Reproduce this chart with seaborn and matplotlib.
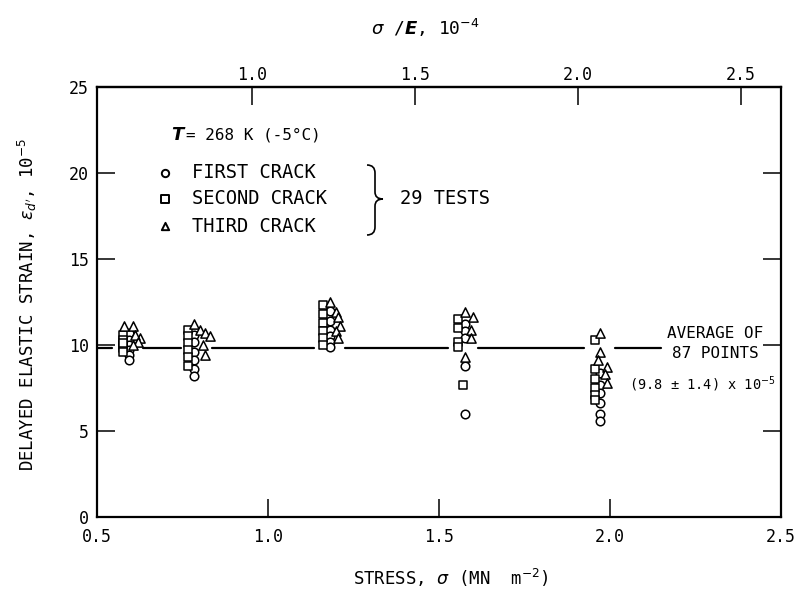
import numpy as np
import pandas as pd
import matplotlib
matplotlib.use("Agg")
import matplotlib.pyplot as plt
import seaborn as sns
from matplotlib.path import Path
from matplotlib.patches import PathPatch

# ---------------- data ----------------
first_stress = [0.595, 0.595, 0.595, 0.595, 0.595, 0.595,
                0.785, 0.785, 0.785, 0.785, 0.785, 0.785,
                1.180, 1.180, 1.180, 1.180, 1.180, 1.180,
                1.575, 1.575, 1.575, 1.575, 1.575,
                1.970, 1.970, 1.970, 1.970, 1.970, 1.970]
first_strain = [10.7, 10.3, 10.0, 9.7, 9.4, 9.1,
                10.6, 10.2, 9.6, 9.1, 8.6, 8.2,
                12.0, 11.4, 10.9, 10.5, 10.2, 9.9,
                11.2, 10.8, 10.4, 8.8, 6.0,
                8.4, 7.7, 7.2, 6.6, 6.0, 5.6]

second_stress = [0.575, 0.575, 0.575, 0.575, 0.575, 0.575,
                 0.765, 0.765, 0.765, 0.765, 0.765, 0.765,
                 1.160, 1.160, 1.160, 1.160, 1.160, 1.160,
                 1.555, 1.555, 1.555, 1.555, 1.570,
                 1.955, 1.955, 1.955, 1.955, 1.955, 1.955]
second_strain = [10.6, 10.3, 10.0, 9.8, 9.6, 10.1,
                 10.9, 10.5, 10.1, 9.7, 9.3, 8.8,
                 12.3, 11.8, 11.3, 10.8, 10.4, 10.0,
                 11.5, 11.0, 10.2, 9.9, 7.7,
                 10.3, 8.6, 8.0, 7.5, 7.1, 6.8]

third_stress = [0.580, 0.605, 0.625, 0.610, 0.620, 0.605,
                0.785, 0.800, 0.815, 0.830, 0.810, 0.815,
                1.180, 1.200, 1.205, 1.210, 1.200, 1.205,
                1.575, 1.600, 1.595, 1.595, 1.575,
                1.970, 1.970, 1.965, 1.990, 1.985, 1.990]
third_strain = [11.1, 11.1, 10.4, 10.6, 10.2, 10.0,
                11.2, 10.9, 10.7, 10.5, 10.0, 9.4,
                12.5, 11.9, 11.6, 11.1, 10.8, 10.4,
                11.9, 11.6, 10.9, 10.4, 9.3,
                10.7, 9.6, 9.1, 8.7, 8.3, 7.8]

stress_levels = [0.59, 0.79, 1.18, 1.57, 1.97]
average_strain = 9.8
strain_spread = 1.4
average_line_end = 2.15
n_tests = 29
modulus_factor = 0.953   # stress (MN m^-2) per 10^-4 of sigma/E

x_ticks = [0.5, 1.0, 1.5, 2.0, 2.5]
x_tick_labels = ["0.5", "1.0", "1.5", "2.0", "2.5"]
y_ticks = [0, 5, 10, 15, 20, 25]
y_tick_labels = ["0", "5", "10", "15", "20", "25"]
top_ticks = [1.0, 1.5, 2.0, 2.5]
top_tick_labels = ["1.0", "1.5", "2.0", "2.5"]
crack_labels = ["FIRST CRACK", "SECOND CRACK", "THIRD CRACK"]

# ---------------- style ----------------
sns.set_theme(style="white")
plt.rcParams["font.family"] = ["DejaVu Sans Mono", "DejaVu Sans"]
plt.rcParams["mathtext.fontset"] = "dejavusans"
for k in ["text.color", "axes.labelcolor", "xtick.color", "ytick.color"]:
    plt.rcParams[k] = "black"

fig = plt.figure(figsize=(7.97, 5.92), dpi=100)
ax = fig.add_axes([97 / 797, 1 - 517 / 592, 684 / 797, 430 / 592])

def pxa(px, py):
    return (px - 97) / 684, (517 - py) / 430

# average line, broken around each cluster of points
gap = 0.045
edges = [0.5]
for s in stress_levels:
    edges += [s - gap, s + gap]
edges.append(average_line_end)
for a, b in zip(edges[0::2], edges[1::2]):
    ax.plot([a, b], [average_strain, average_strain], color="black", lw=1.6, zorder=1)

series = [
    (first_stress, first_strain, "o", 38),
    (second_stress, second_strain, "s", 40),
    (third_stress, third_strain, "^", 44),
]
for (xs, ys, mk, sz), lab in zip(series, crack_labels):
    df = pd.DataFrame({"stress": xs, "strain": ys})
    sns.scatterplot(data=df, x="stress", y="strain", marker=mk, s=sz,
                    color="white", edgecolor="black", linewidth=1.1,
                    ax=ax, zorder=3, legend=False)

ax.set_xlim(0.5, 2.5)
ax.set_ylim(0, 25)
ax.set_xticks(x_ticks)
ax.set_xticklabels(x_tick_labels)
ax.set_yticks(y_ticks)
ax.set_yticklabels(y_tick_labels)
ax.tick_params(axis="x", direction="in", length=13, width=1.1, pad=8,
               labelsize=12, top=False, bottom=True, color="black")
ax.tick_params(axis="y", direction="in", length=13, width=1.1, pad=6,
               labelsize=12, left=True, right=True, labelright=False, color="black")
for sp in ax.spines.values():
    sp.set_visible(True)
    sp.set_color("black")
    sp.set_linewidth(1.6)

secax = ax.secondary_xaxis("top", functions=(lambda x: x / modulus_factor,
                                              lambda t: t * modulus_factor))
secax.set_xticks(top_ticks)
secax.set_xticklabels(top_tick_labels)
secax.tick_params(axis="x", direction="in", length=13, width=1.1, pad=2,
                  labelsize=12, color="black")
secax.spines["top"].set_linewidth(1.6)
secax.set_xlabel(r"$\sigma$ /$\mathbfit{E}$, 10$^{-4}$", fontsize=13, va="center")
secax.xaxis.set_label_coords((425 - 97) / 684, (517 - 28) / 430,
                             transform=ax.transAxes)

ax.set_xlabel(r"STRESS, $\sigma$ (MN  m$^{-2}$)", fontsize=12.5, va="center")
ax.xaxis.set_label_coords((451 - 97) / 684, (517 - 578) / 430)
ax.set_ylabel(r"DELAYED ELASTIC STRAIN, $\epsilon_{d'}$, 10$^{-5}$", fontsize=12.5,
              va="center")
ax.yaxis.set_label_coords((27 - 97) / 684, (517 - 304) / 430)

# ---------------- annotations / key ----------------
tx, ty = pxa(171, 135)
ax.text(tx, ty, "T", transform=ax.transAxes, fontsize=13, fontweight="bold",
        fontstyle="italic", family="DejaVu Sans", ha="left", va="center")
tx, ty = pxa(186, 135)
ax.text(tx, ty, "= 268 K (-5°C)", transform=ax.transAxes, fontsize=11.5,
        ha="left", va="center")

key_markers = ["o", "s", "^"]
key_rows = [173, 199, 226]
for mk, lab, py in zip(key_markers, crack_labels, key_rows):
    mx, my = pxa(165, py)
    ax.scatter([mx], [my], marker=mk, s=28, facecolor="white", edgecolor="black",
               linewidth=1.4, transform=ax.transAxes, clip_on=False, zorder=4)
    lx, ly = pxa(192, py)
    ax.text(lx, ly, lab, transform=ax.transAxes, fontsize=13.5,
            ha="left", va="center")

# brace
brace_pts = [pxa(367, 165), pxa(375, 165), pxa(375, 173), pxa(375, 192),
             pxa(375, 199), pxa(383, 199),
             pxa(383, 199), pxa(375, 199), pxa(375, 206), pxa(375, 227),
             pxa(375, 235), pxa(367, 235)]
brace_codes = [Path.MOVETO, Path.CURVE3, Path.CURVE3, Path.LINETO,
               Path.CURVE3, Path.CURVE3,
               Path.MOVETO, Path.CURVE3, Path.CURVE3, Path.LINETO,
               Path.CURVE3, Path.CURVE3]
ax.add_patch(PathPatch(Path(brace_pts, brace_codes), transform=ax.transAxes,
                       fill=False, lw=1.2, edgecolor="black", clip_on=False))
tx, ty = pxa(400, 199)
ax.text(tx, ty, f"{n_tests} TESTS", transform=ax.transAxes, fontsize=13.5,
        ha="left", va="center")

n_points = len(first_strain) + len(second_strain) + len(third_strain)
tx, ty = pxa(715, 333)
ax.text(tx, ty, "AVERAGE OF", transform=ax.transAxes, fontsize=11.5,
        ha="center", va="center")
tx, ty = pxa(715, 354)
ax.text(tx, ty, f"{n_points} POINTS", transform=ax.transAxes, fontsize=11.5,
        ha="center", va="center")
tx, ty = pxa(702, 384)
ax.text(tx, ty, f"({average_strain} ± {strain_spread}) x 10$^{{-5}}$",
        transform=ax.transAxes, fontsize=9.8, ha="center", va="center")

fig.savefig("out.png", dpi=100)
